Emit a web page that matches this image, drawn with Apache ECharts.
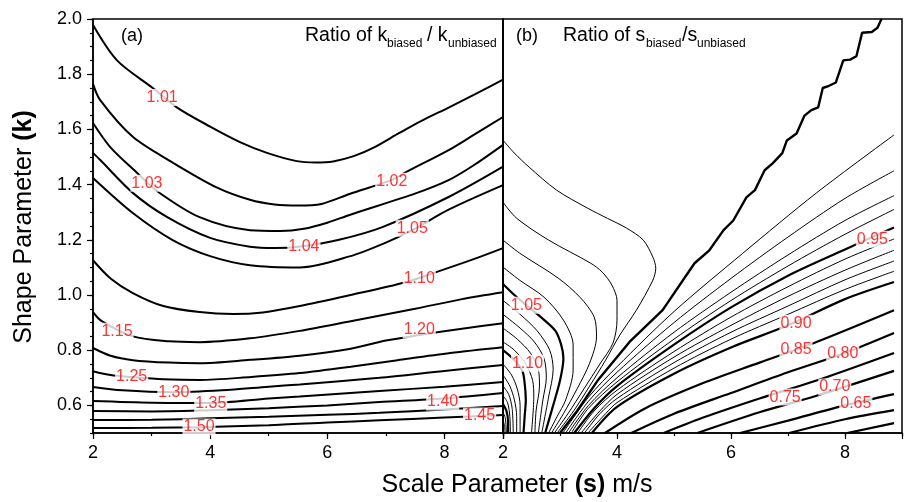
<!DOCTYPE html>
<html><head><meta charset="utf-8">
<script src="https://cdn.jsdelivr.net/npm/echarts@6/dist/echarts.min.js"></script>
<style>html,body{margin:0;padding:0;background:#fff}#c{width:905px;height:502px}</style>
</head><body><div id="c"></div>
<script>
// ---------- Panel (a): ratio of k_biased / k_unbiased : contour lines [s, k] ----------
const a101 = [[2,1.978],[2.41,1.85],[3.02,1.75],[3.43,1.68],[4.0,1.61],[4.5,1.555],[4.97,1.515],[5.48,1.485],[5.8,1.48],[6.1,1.484],[6.45,1.503],[6.8,1.535],[7.23,1.587],[7.6,1.63],[8.08,1.68],[8.5,1.725],[9.0,1.78]];
const a102 = [[2,1.765],[2.12,1.707],[2.68,1.573],[3.36,1.48],[4.11,1.39],[4.68,1.345],[5.1,1.328],[5.5,1.324],[5.9,1.33],[6.38,1.366],[7.10,1.417],[7.35,1.446],[8.08,1.526],[8.5,1.58],[9.0,1.645]];
const a103 = [[2,1.623],[2.29,1.537],[2.75,1.443],[3.09,1.377],[3.82,1.282],[4.68,1.235],[5.2,1.232],[5.6,1.24],[6.0,1.262],[6.38,1.29],[7.52,1.369],[8.08,1.417],[8.5,1.47],[9.0,1.544]];
const a104 = [[2,1.515],[2.12,1.49],[2.68,1.37],[3.26,1.283],[4.0,1.207],[4.68,1.175],[5.1,1.17],[5.58,1.177],[6.2,1.2],[6.94,1.246],[8.08,1.356],[9.0,1.465]];
const a105 = [[2,1.424],[2.68,1.297],[3.36,1.199],[4.0,1.141],[4.68,1.108],[5.53,1.1],[6.38,1.14],[7.0,1.19],[7.45,1.235],[8.08,1.31],[9.0,1.398]];
const a110 = [[2,1.126],[2.3,1.06],[2.68,1.007],[3.2,0.96],[3.82,0.938],[4.39,0.931],[4.9,0.937],[5.53,0.96],[6.4,1.0],[7.32,1.045],[7.86,1.083],[8.5,1.13],[9.0,1.17]];
const a115 = [[2,0.938],[2.15,0.905],[2.68,0.85],[3.3,0.832],[3.82,0.829],[4.68,0.843],[5.53,0.87],[6.4,0.905],[7.5,0.95],[8.3,0.985],[9.0,1.01]];
const a120 = [[2,0.808],[2.3,0.78],[2.68,0.764],[3.3,0.755],[3.82,0.753],[4.68,0.765],[5.53,0.78],[6.4,0.805],[7.0,0.835],[7.57,0.855],[8.3,0.878],[9.0,0.898]];
const a125 = [[2,0.724],[2.3,0.71],[2.66,0.703],[3.2,0.695],[3.82,0.692],[4.7,0.703],[5.53,0.717],[6.4,0.74],[7.2,0.764],[8.1,0.79],[9.0,0.811]];
const a130 = [[2,0.667],[2.5,0.655],[3.36,0.648],[4.2,0.655],[5.0,0.668],[5.53,0.676],[6.89,0.7],[8.0,0.725],[9.0,0.746]];
const a135 = [[2,0.616],[3.0,0.61],[4.0,0.609],[5.0,0.625],[5.53,0.632],[6.89,0.652],[8.0,0.668],[9.0,0.685]];
const a140 = [[2,0.58],[3.0,0.578],[4.0,0.582],[5.0,0.59],[6.0,0.6],[6.89,0.612],[7.97,0.625],[9.0,0.645]];
const a145 = [[2,0.547],[3.0,0.548],[4.0,0.553],[5.0,0.559],[6.0,0.566],[6.89,0.573],[8.0,0.585],[9.0,0.598]];
const a150 = [[2,0.518],[3.0,0.519],[3.79,0.521],[5.0,0.528],[6.0,0.538],[6.89,0.546],[8.0,0.556],[9.0,0.565]];

const aLabelText = ['1.01','1.03','1.02','1.04','1.05','1.10','1.15','1.20','1.25','1.30','1.35','1.40','1.45','1.50'];
const aLabelS    = [3.18, 2.92, 7.10, 5.60, 7.45, 7.57, 2.41, 7.57, 2.66, 3.38, 4.01, 7.97, 8.60, 3.81];
const aLabelK    = [1.716,1.405,1.412,1.177,1.242,1.061,0.869,0.873,0.706,0.648,0.605,0.612,0.562,0.522];

// ---------- Panel (b): ratio of s_biased / s_unbiased ----------
const b100 = [[3.0,0.5],[3.3,0.58],[3.66,0.69],[4.22,0.83],[4.8,0.945],[5.36,1.115],[5.62,1.162],[5.87,1.235],[6.04,1.27],[6.27,1.354],[6.42,1.38],[6.59,1.452],[6.73,1.477],[6.9,1.514],[6.98,1.56],[7.15,1.585],[7.29,1.65],[7.41,1.67],[7.53,1.68],[7.61,1.75],[7.72,1.758],[7.84,1.77],[7.97,1.85],[8.09,1.853],[8.2,1.865],[8.3,1.95],[8.47,1.953],[8.57,1.968],[8.64,2.0]];
const b101 = [[2.0,1.561],[2.2,1.514],[2.46,1.463],[2.94,1.38],[3.48,1.315],[3.83,1.278],[4.17,1.242],[4.46,1.199],[4.63,1.137],[4.68,1.097],[4.63,1.054],[4.34,0.945],[4.05,0.855],[3.8,0.764],[3.52,0.67],[3.24,0.58],[2.95,0.5]];
const b102 = [[2.0,1.336],[2.24,1.278],[2.8,1.199],[3.54,1.115],[3.74,1.083],[3.91,1.036],[4.0,0.981],[4.0,0.909],[3.93,0.826],[3.7,0.75],[3.42,0.66],[3.14,0.57],[2.9,0.5]];
const b103 = [[2.0,1.199],[2.29,1.152],[2.97,1.061],[3.35,0.992],[3.6,0.92],[3.64,0.848],[3.52,0.753],[3.3,0.66],[3.06,0.57],[2.85,0.5]];
const b104 = [[2.0,1.101],[2.29,1.054],[2.72,0.992],[3.06,0.909],[3.23,0.819],[3.23,0.728],[3.1,0.62],[2.95,0.56],[2.8,0.5]];
const b105 = [[2.0,1.04],[2.2,1.0],[2.41,0.963],[2.72,0.91],[2.92,0.87],[3.02,0.82],[3.06,0.77],[3.0,0.69],[2.88,0.6],[2.74,0.5]];
const b106 = [[2.0,0.98],[2.3,0.93],[2.6,0.87],[2.82,0.8],[2.88,0.73],[2.8,0.63],[2.68,0.5]];
const b107 = [[2.0,0.93],[2.3,0.88],[2.55,0.83],[2.72,0.77],[2.76,0.7],[2.7,0.62],[2.62,0.5]];
const b108 = [[2.0,0.88],[2.25,0.84],[2.48,0.79],[2.62,0.73],[2.64,0.67],[2.58,0.58],[2.56,0.5]];
const b109 = [[2.0,0.83],[2.2,0.8],[2.4,0.75],[2.52,0.69],[2.54,0.63],[2.5,0.5]];
const b110 = [[2.0,0.8],[2.2,0.764],[2.34,0.725],[2.38,0.68],[2.40,0.62],[2.38,0.56],[2.36,0.5]];
const b111 = [[2.0,0.75],[2.15,0.71],[2.25,0.66],[2.3,0.6],[2.3,0.5]];
const b112 = [[2.0,0.71],[2.12,0.67],[2.2,0.62],[2.24,0.56],[2.24,0.5]];
const b113 = [[2.0,0.67],[2.1,0.64],[2.16,0.59],[2.18,0.5]];
const b114 = [[2.0,0.635],[2.08,0.61],[2.12,0.56],[2.13,0.5]];
const b115 = [[2.0,0.605],[2.06,0.58],[2.09,0.54],[2.09,0.5]];
const b116 = [[2.0,0.575],[2.04,0.555],[2.06,0.5]];
const b117 = [[2.0,0.55],[2.03,0.52],[2.035,0.5]];
const b099 = [[3.05,0.5],[3.5,0.63],[4.0,0.74],[5.0,0.94],[6.2,1.15],[7.5,1.37],[8.86,1.58]];
const b098 = [[3.1,0.5],[3.5,0.615],[4.0,0.72],[5.0,0.9],[6.0,1.06],[7.0,1.21],[8.0,1.35],[8.86,1.45]];
const b097 = [[3.15,0.5],[3.5,0.6],[4.0,0.7],[5.0,0.865],[6.0,1.01],[7.0,1.145],[8.0,1.27],[8.86,1.36]];
const b096 = [[3.2,0.5],[3.5,0.59],[4.0,0.685],[5.0,0.84],[6.0,0.98],[7.0,1.105],[8.0,1.22],[8.86,1.31]];
const b095 = [[3.25,0.5],[3.6,0.59],[4.0,0.67],[5.0,0.82],[6.0,0.955],[7.0,1.07],[8.0,1.165],[8.86,1.245]];
const b094 = [[3.31,0.5],[3.6,0.58],[4.0,0.655],[5.0,0.795],[6.0,0.92],[7.0,1.03],[8.0,1.13],[8.86,1.203]];
const b093 = [[3.37,0.5],[3.7,0.58],[4.0,0.64],[5.0,0.775],[6.0,0.89],[7.0,0.995],[8.0,1.09],[8.86,1.162]];
const b092 = [[3.43,0.5],[3.7,0.57],[4.0,0.625],[5.0,0.755],[6.0,0.865],[7.0,0.96],[8.0,1.055],[8.86,1.123]];
const b091 = [[3.49,0.5],[3.8,0.57],[4.0,0.61],[5.0,0.735],[6.0,0.84],[7.0,0.93],[8.0,1.02],[8.86,1.086]];
const b090 = [[3.56,0.5],[4.0,0.595],[5.0,0.715],[6.0,0.81],[7.0,0.89],[8.0,0.985],[8.86,1.047]];
const b085 = [[3.79,0.5],[4.5,0.59],[5.5,0.68],[6.5,0.755],[7.5,0.83],[8.86,0.945]];
const b080 = [[4.25,0.5],[5.0,0.57],[6.0,0.645],[7.0,0.72],[8.0,0.79],[8.86,0.862]];
const b075 = [[4.82,0.5],[5.5,0.555],[6.5,0.625],[7.5,0.69],[8.86,0.79]];
const b070 = [[5.41,0.5],[6.5,0.575],[7.5,0.635],[8.86,0.725]];
const b065 = [[6.16,0.5],[7.0,0.545],[8.0,0.6],[8.86,0.641]];
const b060 = [[7.02,0.5],[8.0,0.55],[8.86,0.583]];
const b055 = [[8.04,0.5],[8.86,0.536]];

const bLabelText = ['1.05','1.10','0.95','0.90','0.85','0.80','0.75','0.70','0.65'];
const bLabelS    = [2.41, 2.43, 8.48, 7.14, 7.14, 7.96, 6.95, 7.82, 8.19];
const bLabelK    = [0.963,0.753,1.202,0.898,0.804,0.786,0.630,0.667,0.605];

// tick labels
const xTickLabels = [2, 4, 6, 8];
const yTickLabels = [0.6, 0.8, 1.0, 1.2, 1.4, 1.6, 1.8, 2.0];

// ---------- build ----------
const F = "'Liberation Sans', Arial, sans-serif";
const aLines = [a101,a102,a103,a104,a105,a110,a115,a120,a125,a130,a135,a140,a145,a150];
const bThin  = [b101,b102,b103,b104,b106,b107,b108,b109,b111,b112,b113,b114,b116,b117,b099,b098,b097,b096,b094,b093,b092,b091];
const bThick = [b105,b110,b115,b095,b090,b085,b080,b075,b070,b065,b060,b055];

function ln(data, xi, yi, w, sm) {
  return {type:'line', xAxisIndex:xi, yAxisIndex:yi, data:data, symbol:'none', smooth:sm,
    lineStyle:{color:'#000', width:w}, silent:true, z:2, animation:false};
}
const series = [];
aLines.forEach(d => series.push(ln(d,0,0,2,0.3)));
bThin.forEach(d => series.push(ln(d,2,2,1,0.3)));
bThick.forEach(d => series.push(ln(d,2,2,2.2,0.3)));
series.push(ln(b100,2,2,2.4,0));

function labSeries(S,K,T,xi,yi){
  return {type:'scatter', xAxisIndex:xi, yAxisIndex:yi, z:10, silent:true, animation:false,
    symbolSize:1, itemStyle:{color:'rgba(0,0,0,0)'},
    data:S.map((s,i)=>[s,K[i]]),
    label:{show:true, position:'inside', formatter:p=>T[p.dataIndex], color:'#ff0000',
      fontSize:16, fontFamily:F, backgroundColor:'#fff', padding:[1,1,0,1]}};
}
series.push(labSeries(aLabelS,aLabelK,aLabelText,0,0));
series.push(labSeries(bLabelS,bLabelK,bLabelText,2,2));

function xMinor(g){
  return {gridIndex:g, type:'value', min:2, max:9, interval:1, position:'bottom',
    axisLine:{show:true, lineStyle:{color:'#000', width:1.5}},
    axisTick:{show:true, length:3, lineStyle:{color:'#000', width:1.2}},
    axisLabel:{show:true, margin:11, fontSize:18, fontFamily:F, color:'#000',
      formatter:v=> xTickLabels.indexOf(v)>=0 ? String(v) : ''},
    splitLine:{show:false}};
}
function xMajor(g){
  return {gridIndex:g, type:'value', min:2, max:9, interval:2, position:'bottom',
    axisLine:{show:false}, axisTick:{show:true, length:6, lineStyle:{color:'#000', width:1.2}},
    axisLabel:{show:false}, splitLine:{show:false}};
}
function txt(left, top, s, size){
  return {type:'text', left:left, top:top, style:{text:s, fontSize:size, fontFamily:F, fill:'#000'}};
}
const option = {
  backgroundColor:'#fff',
  animation:false,
  grid:[
    {left:93, top:19, width:410, height:414, show:true, borderColor:'#000', borderWidth:1.5, backgroundColor:'transparent'},
    {left:503, top:19, width:410, height:414, show:true, borderColor:'#000', borderWidth:1.5, backgroundColor:'transparent'}
  ],
  xAxis:[xMinor(0), xMajor(0), xMinor(1), xMajor(1)],
  yAxis:[
    {gridIndex:0, type:'value', min:0.5, max:2.0, interval:0.05, position:'left',
     axisLine:{show:true, lineStyle:{color:'#000', width:1.5}},
     axisTick:{show:true, length:3, lineStyle:{color:'#000', width:1.2}},
     axisLabel:{show:true, margin:11, fontSize:18, fontFamily:F, color:'#000',
       formatter:v=>{ const c=Math.round(v*100); return yTickLabels.some(t=>Math.round(t*100)===c) ? (c/100).toFixed(1) : ''; }},
     splitLine:{show:false}},
    {gridIndex:0, type:'value', min:0.5, max:2.0, position:'left',
     axisLine:{show:false},
     axisTick:{show:true, length:6, customValues:yTickLabels, lineStyle:{color:'#000', width:1.2}},
     axisLabel:{show:false}, splitLine:{show:false}},
    {gridIndex:1, type:'value', min:0.5, max:2.0, position:'left',
     axisLine:{show:true, lineStyle:{color:'#000', width:1.5}},
     axisTick:{show:false}, axisLabel:{show:false}, splitLine:{show:false}}
  ],
  graphic:[
    txt(121, 27, '(a)', 18),
    txt(516, 27, '(b)', 18),
    txt(305, 26, 'Ratio of k', 19.5),
    txt(387, 38, 'biased', 12),
    txt(427, 26, '/ k', 19.5),
    txt(448, 38, 'unbiased', 12),
    txt(563, 26, 'Ratio of s', 19.5),
    txt(646, 38, 'biased', 12),
    txt(682, 26, '/s', 19.5),
    txt(697, 38, 'unbiased', 12),
    {type:'text', x:517, y:485, style:{text:'{n|Scale Parameter }{b|(s)}{n| m/s}', align:'center', verticalAlign:'middle',
      textAlign:'center', textVerticalAlign:'middle', fill:'#000',
      rich:{n:{fontSize:25, fontFamily:F, fill:'#000'}, b:{fontSize:25, fontFamily:F, fontWeight:'bold', fill:'#000'}}}},
    {type:'text', x:24, y:227, rotation:Math.PI/2, style:{text:'{n|Shape Parameter }{b|(k)}', align:'center', verticalAlign:'middle',
      textAlign:'center', textVerticalAlign:'middle', fill:'#000',
      rich:{n:{fontSize:25, fontFamily:F, fill:'#000'}, b:{fontSize:25, fontFamily:F, fontWeight:'bold', fill:'#000'}}}}
  ],
  series:series
};
const chart = echarts.init(document.getElementById('c'), null, {renderer:'canvas'});
chart.setOption(option);
</script></body></html>
